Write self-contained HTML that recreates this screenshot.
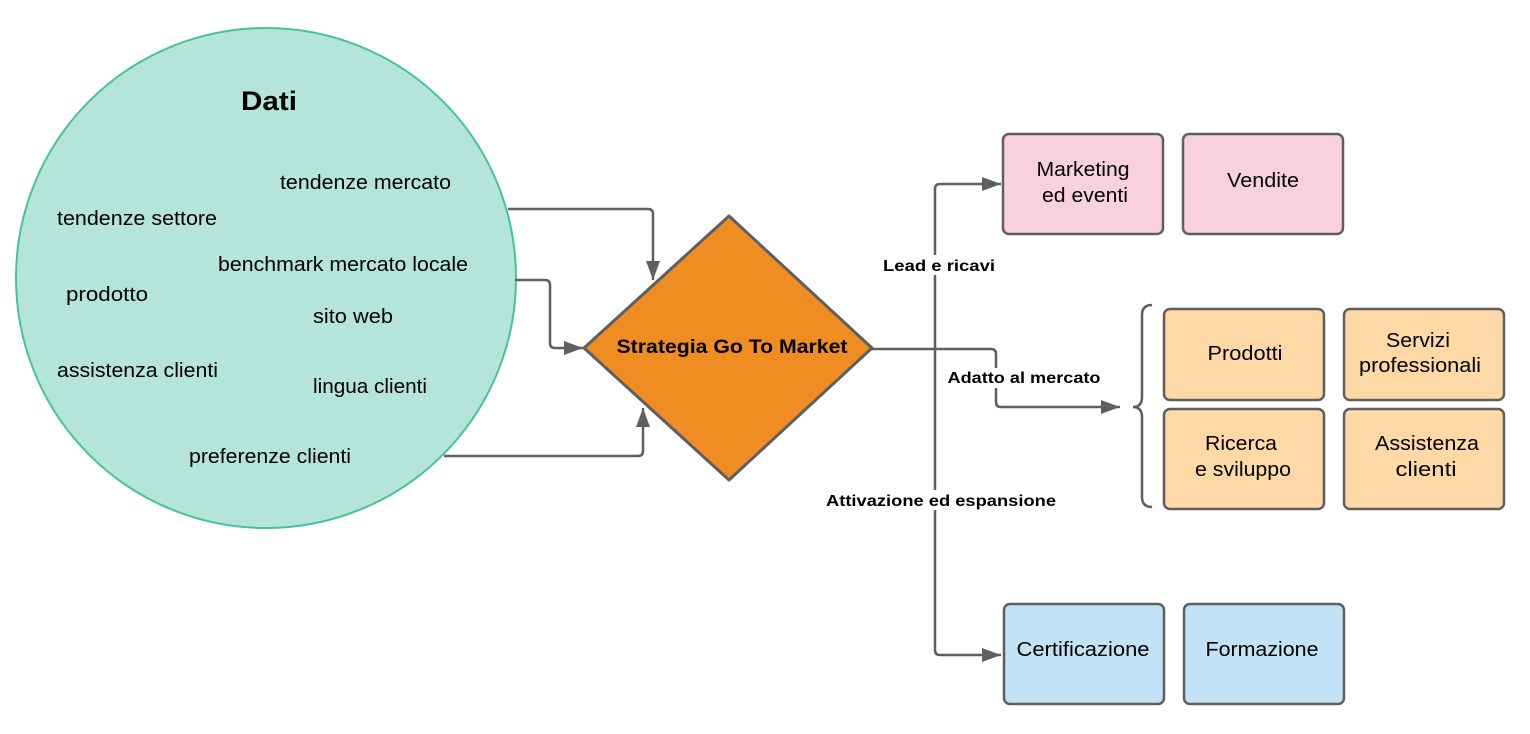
<!DOCTYPE html>
<html><head><meta charset="utf-8"><style>
html,body{margin:0;padding:0;background:#fff;}
svg{display:block;font-family:"Liberation Sans",Arial,sans-serif;}
</style></head><body>
<svg width="1530" height="734" viewBox="0 0 1530 734" xmlns="http://www.w3.org/2000/svg">
<defs>
<marker id="b" markerWidth="20" markerHeight="14" refX="19" refY="7" orient="auto" markerUnits="userSpaceOnUse"><path d="M0,0 L19,7 L0,14 z" fill="#5f5f5f"/></marker></defs>
<circle cx="266" cy="278" r="250" fill="#b5e5d9" stroke="#47c29e" stroke-width="2"/>
<g font-size="20" fill="#000" lengthAdjust="spacingAndGlyphs">
<text x="241" y="110" font-size="27" font-weight="bold" textLength="56" lengthAdjust="spacingAndGlyphs">Dati</text>
<text x="280" y="189" textLength="171" lengthAdjust="spacingAndGlyphs">tendenze mercato</text>
<text x="57" y="225" textLength="160" lengthAdjust="spacingAndGlyphs">tendenze settore</text>
<text x="218" y="271" textLength="250" lengthAdjust="spacingAndGlyphs">benchmark mercato locale</text>
<text x="66" y="301" textLength="82" lengthAdjust="spacingAndGlyphs">prodotto</text>
<text x="313" y="323" textLength="80" lengthAdjust="spacingAndGlyphs">sito web</text>
<text x="57" y="377" textLength="161" lengthAdjust="spacingAndGlyphs">assistenza clienti</text>
<text x="313" y="393" textLength="114" lengthAdjust="spacingAndGlyphs">lingua clienti</text>
<text x="189" y="463" textLength="162" lengthAdjust="spacingAndGlyphs">preferenze clienti</text>
</g>
<g fill="none" stroke="#5f5f5f" stroke-width="2.5">
<path d="M508,209 H648 Q653,209 653,214 V280" marker-end="url(#b)"/>
<path d="M515,280 H545 Q550,280 550,285 V343 Q550,348 555,348 H583" marker-end="url(#b)"/>
<path d="M444,456 H638 Q643,456 643,451 V408" marker-end="url(#b)"/>
<path d="M872,349 H935"/>
<path d="M935,349 V189 Q935,184 940,184 H1001" marker-end="url(#b)"/>
<path d="M935,349 V650 Q935,655 940,655 H1001" marker-end="url(#b)"/>
<path d="M935,349 H991 Q996,349 996,354 V402 Q996,407 1001,407 H1120" marker-end="url(#b)"/>
<path d="M1152,305 Q1142,305 1142,315 V397 Q1142,407 1133,407 Q1142,407 1142,417 V497 Q1142,507 1152,507"/>
</g>
<polygon points="584,348 729,216 872,348 729,480" fill="#ef8d22" stroke="#5f5f5f" stroke-width="3" stroke-linejoin="round"/>
<text x="732" y="353" font-size="19" font-weight="bold" text-anchor="middle" textLength="231" lengthAdjust="spacingAndGlyphs">Strategia Go To Market</text>
<g font-size="16" font-weight="bold" text-anchor="middle">
<rect x="880" y="255" width="118" height="20" fill="#fff"/>
<text x="939" y="271" textLength="112" lengthAdjust="spacingAndGlyphs">Lead e ricavi</text>
<rect x="944" y="368" width="162" height="20" fill="#fff"/>
<text x="1024" y="383" textLength="153" lengthAdjust="spacingAndGlyphs">Adatto al mercato</text>
<rect x="822" y="490" width="238" height="20" fill="#fff"/>
<text x="941" y="506" textLength="230" lengthAdjust="spacingAndGlyphs">Attivazione ed espansione</text>
</g>
<g stroke="#5f5f5f" stroke-width="2.5">
<rect x="1003" y="134" width="160" height="100" rx="6" fill="#f9d1de"/>
<rect x="1183" y="134" width="160" height="100" rx="6" fill="#f9d1de"/>
<rect x="1164" y="309" width="160" height="91" rx="6" fill="#fed9a6"/>
<rect x="1344" y="309" width="160" height="91" rx="6" fill="#fed9a6"/>
<rect x="1164" y="409" width="160" height="100" rx="6" fill="#fed9a6"/>
<rect x="1344" y="409" width="160" height="100" rx="6" fill="#fed9a6"/>
<rect x="1004" y="604" width="160" height="100" rx="6" fill="#c2e3f5"/>
<rect x="1184" y="604" width="160" height="100" rx="6" fill="#c2e3f5"/>
</g>
<g font-size="20" text-anchor="middle">
<text x="1083" y="176" textLength="93" lengthAdjust="spacingAndGlyphs">Marketing</text>
<text x="1085" y="202" textLength="86" lengthAdjust="spacingAndGlyphs">ed eventi</text>
<text x="1263" y="187" textLength="72" lengthAdjust="spacingAndGlyphs">Vendite</text>
<text x="1245" y="360" textLength="75" lengthAdjust="spacingAndGlyphs">Prodotti</text>
<text x="1418" y="347" textLength="64" lengthAdjust="spacingAndGlyphs">Servizi</text>
<text x="1420" y="372" textLength="122" lengthAdjust="spacingAndGlyphs">professionali</text>
<text x="1241" y="450" textLength="72" lengthAdjust="spacingAndGlyphs">Ricerca</text>
<text x="1243" y="476" textLength="96" lengthAdjust="spacingAndGlyphs">e sviluppo</text>
<text x="1427" y="450" textLength="104" lengthAdjust="spacingAndGlyphs">Assistenza</text>
<text x="1426" y="476" textLength="61" lengthAdjust="spacingAndGlyphs">clienti</text>
<text x="1083" y="656" textLength="133" lengthAdjust="spacingAndGlyphs">Certificazione</text>
<text x="1262" y="656" textLength="113" lengthAdjust="spacingAndGlyphs">Formazione</text>
</g>
</svg>
</body></html>
